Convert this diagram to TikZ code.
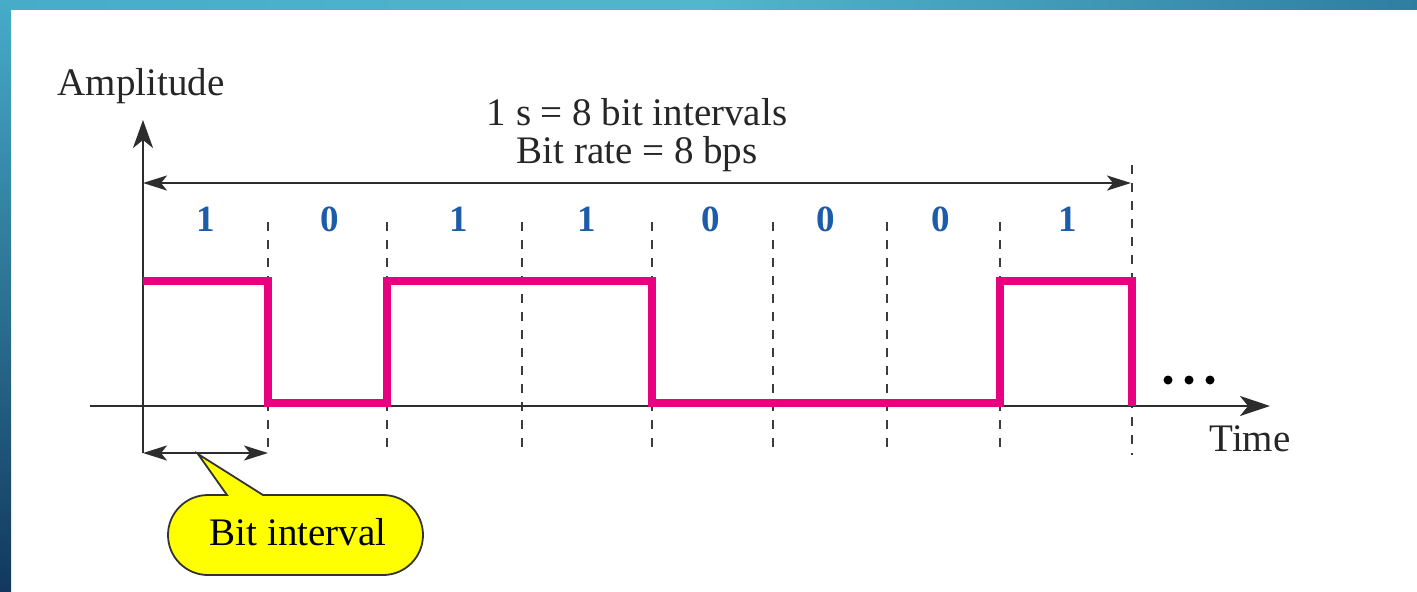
\documentclass[tikz,border=0pt]{standalone}
\usepackage{fontspec}
\setmainfont{Liberation Serif}
\usetikzlibrary{arrows.meta}
\definecolor{sigpink}{RGB}{232,0,126}
\definecolor{bitblue}{RGB}{28,92,168}
\definecolor{axisgray}{RGB}{45,45,45}
\definecolor{dashgray}{RGB}{60,60,60}
\definecolor{calloutyellow}{RGB}{255,255,0}
\definecolor{frameA}{RGB}{70,172,200}
\definecolor{frameB}{RGB}{82,182,204}
\definecolor{frameC}{RGB}{46,126,160}
\definecolor{frameD}{RGB}{18,56,94}
\tikzset{
  axisline/.style={draw=axisgray, line width=1.3pt},
  bigtip/.style={-{Stealth[length=14pt,width=10pt,inset=4pt]}},
  dimline/.style={draw=axisgray, line width=1.1pt, {Stealth[length=12pt,width=7.5pt,inset=3pt]}-{Stealth[length=12pt,width=7.5pt,inset=3pt]}},
  gridline/.style={draw=dashgray, line width=1.1pt, dash pattern=on 4.5pt off 4.5pt},
  signal/.style={draw=sigpink, line width=4pt, line join=miter},
  bitlabel/.style={text=bitblue, font=\fontsize{18.5}{22}\selectfont\bfseries, anchor=base, inner sep=0pt},
  plaintext/.style={text=black!85, font=\fontsize{19.5}{23}\selectfont, anchor=base, inner sep=0pt},
  callout/.style={draw=black!80, line width=0.9pt, fill=calloutyellow},
  dotmark/.style={fill=black, draw=none}
}
\begin{document}
\begin{tikzpicture}[x=0.5pt, y=-0.5pt]
\useasboundingbox (0,0) rectangle (1417,591);
\fill[white] (0,0) rectangle (1417,591);
% frame bands
\shade[left color=frameA, right color=frameC, middle color=frameB] (0,0) rectangle (1417,9);
\shade[top color=frameA, bottom color=frameD] (0,0) rectangle (11,591);

% coordinates
\coordinate (O) at (143,406);
\foreach \n/\x in {0/143,1/268,2/387,3/522,4/652,5/773,6/887,7/1000,8/1132}{
  \coordinate (t\n) at (\x,222);
  \coordinate (b\n) at (\x,455);
  \coordinate (h\n) at (\x,281);
  \coordinate (l\n) at (\x,403);
}
\coordinate (t8) at (1132,165);
\coordinate (ytop) at (143,120);
\coordinate (ybot) at (143,453);
\coordinate (xl) at (90,406);
\coordinate (xr) at (1270,406);
\coordinate (dimL) at (143,183);
\coordinate (dimR) at (1131,183);
\coordinate (biL) at (143,453);
\coordinate (biR) at (268,453);

% dashed grid lines
\foreach \n in {1,...,8}{
  \draw[gridline] (t\n) -- (b\n);
}

% axes
\draw[axisline, bigtip] (ybot) -- (ytop);
\draw[axisline, -{Stealth[length=15pt,width=10pt,inset=4pt]}] (xl) -- (xr);

% dimension arrows
\draw[dimline] (dimL) -- (dimR);
\draw[dimline] (biL) -- (biR);

% signal
\draw[signal] (h0) -- (h1) -- (l1) -- (l2) -- (h2) -- (h4) -- (l4) -- (l7) -- (h7) -- (h8) -- (1132,406);

% texts
\node[plaintext] (amp) at (141,95) {Amplitude};
\node[plaintext] (l1txt) at (637,125) {1 s = 8 bit intervals};
\node[plaintext] (l2txt) at (637,163) {Bit rate = 8 bps};
\node[plaintext] (time) at (1250,451) {Time};

% bit labels
\foreach \v/\x [count=\i] in {1/206,0/330,1/459,1/587,0/711,0/826,0/941,1/1068}{
  \node[bitlabel] (bit\i) at (\x,231) {\v};
}

% dots
\foreach \x [count=\i] in {1168,1189,1210}{
  \fill[dotmark] (\x,380) circle (4.5) coordinate (dot\i);
}

% callout
\draw[callout] (227,495) -- (198,454) -- (263,495) -- (383,495)
  arc[start angle=-90, end angle=90, x radius=40, y radius=40]
  -- (208,575)
  arc[start angle=90, end angle=270, x radius=40, y radius=40]
  -- cycle;
\node[plaintext, text=black] (bitint) at (298,545) {Bit interval};
\end{tikzpicture}
\end{document}
